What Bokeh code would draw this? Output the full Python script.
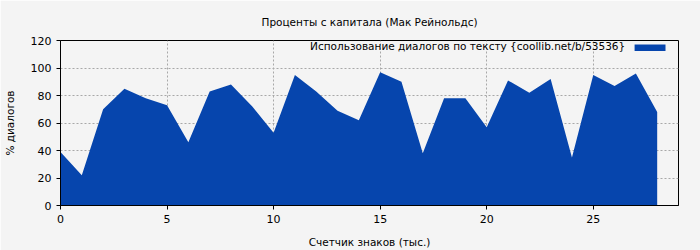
from bokeh.plotting import figure
from bokeh.models import Range1d, FixedTicker, Label, BoxAnnotation
from bokeh.embed import file_html
from bokeh.resources import INLINE

x_vals = list(range(29))
pct_dialog = [39, 22, 70, 85, 78, 73, 46, 83, 88, 72, 53, 95, 83, 69, 62,
              97, 90, 38, 78, 78, 57, 91, 82, 92, 35, 95, 87, 96, 68]
x_ticks = [0, 5, 10, 15, 20, 25]
y_ticks = [0, 20, 40, 60, 80, 100, 120]

title_text = "Проценты с капитала (Мак Рейнольдс)"
legend_text = "Использование диалогов по тексту {coollib.net/b/53536}"
x_label = "Счетчик знаков (тыс.)"
y_label = "% диалогов"

FONT = "DejaVu Sans"
BLUE = "#0645ad"
BG = "#f4f4f4"

p = figure(width=700, height=250, output_backend="svg", toolbar_location=None,
           x_range=Range1d(0, 29), y_range=Range1d(0, 120),
           min_border_left=60, min_border_right=22, min_border_top=40, min_border_bottom=44)
p.background_fill_color = BG
p.border_fill_color = BG
p.outline_line_color = "black"
p.outline_line_width = 1

p.title.text = title_text
p.title.align = "center"
p.title.text_font = FONT
p.title.text_font_size = "10.5px"
p.title.text_font_style = "normal"
p.title.text_color = "black"
p.title.offset = 0
p.title.standoff = 25

p.varea(x=x_vals, y1=[0] * len(x_vals), y2=pct_dialog, fill_color=BLUE, fill_alpha=1)

for ax in (p.xaxis[0], p.yaxis[0]):
    ax.major_label_text_font = FONT
    ax.major_label_text_font_size = "11px"
    ax.major_label_text_color = "black"
    ax.axis_label_text_font = FONT
    ax.axis_label_text_font_size = "10.5px"
    ax.axis_label_text_font_style = "normal"
    ax.axis_label_text_color = "black"
    ax.minor_tick_line_color = None
    ax.major_tick_in = 0
    ax.major_tick_out = 4
    ax.axis_line_color = "black"
    ax.major_tick_line_color = "black"

p.xaxis[0].ticker = FixedTicker(ticks=x_ticks)
p.yaxis[0].ticker = FixedTicker(ticks=y_ticks)
p.xaxis[0].axis_label = x_label
p.yaxis[0].axis_label = y_label
p.yaxis[0].axis_label_standoff = 12
p.xaxis[0].axis_label_standoff = 10

p.xgrid.ticker = FixedTicker(ticks=x_ticks[1:])
p.ygrid.ticker = FixedTicker(ticks=y_ticks[1:-1])
for g in (p.xgrid[0], p.ygrid[0]):
    g.grid_line_color = "#a8a8a8"
    g.grid_line_dash = "2 2"
    g.grid_line_width = 1

# legend (text left of swatch, as in the reference)
p.add_layout(Label(x=26.5, y=115.7, text=legend_text, text_align="right",
                   text_baseline="middle", text_font=FONT, text_font_size="10.5px",
                   text_color="black"))
p.add_layout(BoxAnnotation(left=26.94, right=28.39, bottom=112.3, top=117.1,
                           fill_color=BLUE, fill_alpha=1, line_color=None))

open("out.html", "w").write(file_html(p, INLINE))
